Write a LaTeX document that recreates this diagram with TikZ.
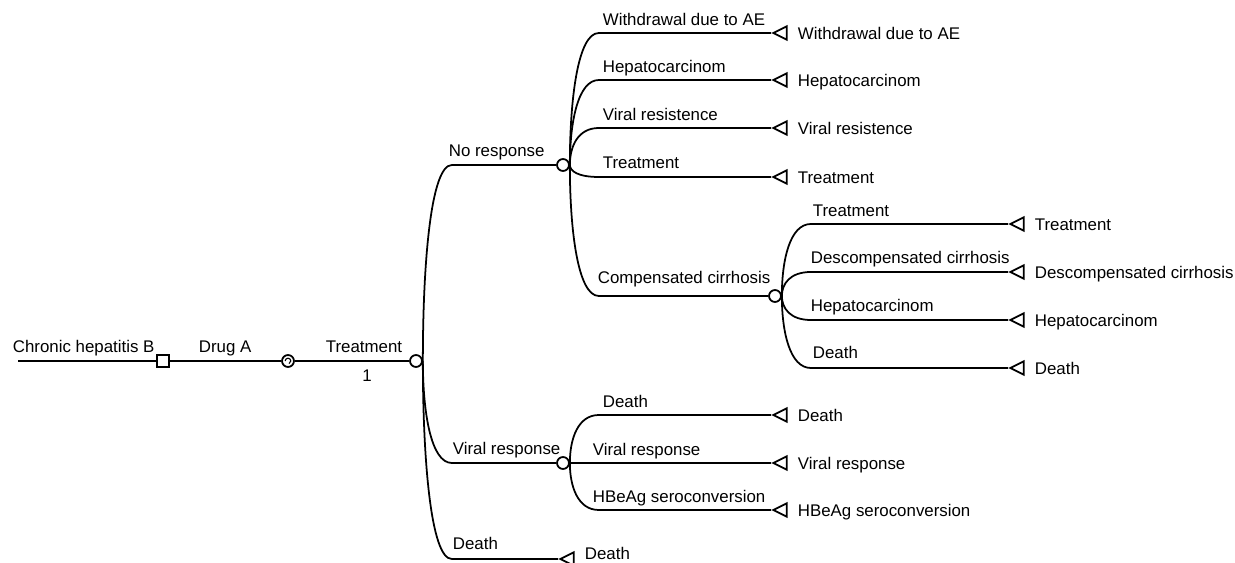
\documentclass[tikz,border=0pt]{standalone}
\usepackage{fontspec}
\setmainfont{Liberation Sans}
\usetikzlibrary{shapes.geometric,calc}

\begin{document}
\begin{tikzpicture}[x=0.02cm,y=-0.02cm,line width=1pt,font=\fontsize{9.6}{11}\selectfont]
        \tikzstyle{chance}=[circle,draw,fill=white,inner sep=0pt,minimum size=6.8pt]
        \tikzstyle{decision}=[rectangle,draw,fill=white,inner sep=0pt,minimum size=7pt]
        \tikzstyle{markov}=[chance,path picture={\draw[line width=0.6pt] ([xshift=-1.6pt]path picture bounding box.center) arc[start angle=180,end angle=-70,radius=1.6pt];}]
        \tikzstyle{tlabel}=[inner sep=0pt,anchor=base west,xshift=5.4pt,yshift=-3.9pt]
        \tikzstyle{term}=[isosceles triangle,shape border rotate=180,draw,fill=white,inner sep=0pt,minimum height=7.6pt,minimum width=7.6pt,isosceles triangle stretches,anchor=apex]
        \tikzstyle{blabel}=[inner sep=0pt,anchor=base west]
        \tikzstyle{every edge}=[draw,to path={(\tikztostart.east) .. controls ($(\tikztostart.east)!0.5!(\tikztostart.east |- \tikztotarget)$) and ($(\tikztostart.east |- \tikztotarget)+(8,0)$) .. ($(\tikztostart.east |- \tikztotarget)+(29,0)$) -- (\tikztotarget)}]
        \useasboundingbox (0,0) rectangle (1235,563);
        % root
        \coordinate (root) at (18,361);
        \node[decision] (drugA) at (163,361) {};
        \node[markov] (mk) at (288,361) {};
        \node[chance] (tx) at (416,361) {};
        \node[blabel] (lroot) at (12,353) {Chronic hepatitis B};
        \node[blabel] (ldrug) at (198,353) {Drug A};
        \node[blabel] (ltx) at (325,353) {Treatment};
        \node[blabel,anchor=base] (lp) at (367,382) {1};
        % first level
        \node[chance] (nr) at (563,165) {};
        \node[chance] (vr) at (563,463) {};
        \node[term,label={[tlabel,yshift=3.6pt]east:Death}] (d0) at (558,559) {};
        \node[blabel] (lnr) at (448,157) {No response};
        \node[blabel] (lvr) at (452,455) {Viral response};
        \node[blabel] (ld0) at (452,550) {Death};
        % no response
        \node[term,label={[tlabel]east:Withdrawal due to AE}] (w1) at (771,33) {};
        \node[term,label={[tlabel]east:Hepatocarcinom}] (w2) at (771,80) {};
        \node[term,label={[tlabel]east:Viral resistence}] (w3) at (771,128) {};
        \node[term,label={[tlabel]east:Treatment}] (w4) at (771,177) {};
        \node[chance] (cc) at (775,296) {};
        \node[blabel] (lw1) at (602,26) {Withdrawal due to AE};
        \node[blabel] (lw2) at (602,73) {Hepatocarcinom};
        \node[blabel] (lw3) at (602,121) {Viral resistence};
        \node[blabel] (lw4) at (602,169) {Treatment};
        \node[blabel] (lcc) at (597,284) {Compensated cirrhosis};
        % compensated cirrhosis
        \node[term,label={[tlabel]east:Treatment}] (c1) at (1008,224) {};
        \node[term,label={[tlabel]east:Descompensated cirrhosis}] (c2) at (1008,272) {};
        \node[term,label={[tlabel]east:Hepatocarcinom}] (c3) at (1008,320) {};
        \node[term,label={[tlabel]east:Death}] (c4) at (1008,368) {};
        \node[blabel] (lc1) at (812,217) {Treatment};
        \node[blabel] (lc2) at (810,264) {Descompensated cirrhosis};
        \node[blabel] (lc3) at (810,312) {Hepatocarcinom};
        \node[blabel] (lc4) at (812,359) {Death};
        % viral response
        \node[term,label={[tlabel]east:Death}] (v1) at (771,415) {};
        \node[term,label={[tlabel]east:Viral response}] (v2) at (771,463) {};
        \node[term,label={[tlabel]east:HBeAg seroconversion}] (v3) at (771,510) {};
        \node[blabel] (lv1) at (602,408) {Death};
        \node[blabel] (lv2) at (592,456) {Viral response};
        \node[blabel] (lv3) at (592,503) {HBeAg seroconversion};
    \draw (root) -- (drugA) -- (mk) -- (tx);
    \path
        (tx) edge (nr) edge (vr) edge (d0)
        (nr) edge (w1) edge (w2) edge (w3) edge (w4) edge (cc)
        (cc) edge (c1) edge (c2) edge (c3) edge (c4)
        (vr) edge (v1) edge (v2) edge (v3);
    \end{tikzpicture}
\end{document}
